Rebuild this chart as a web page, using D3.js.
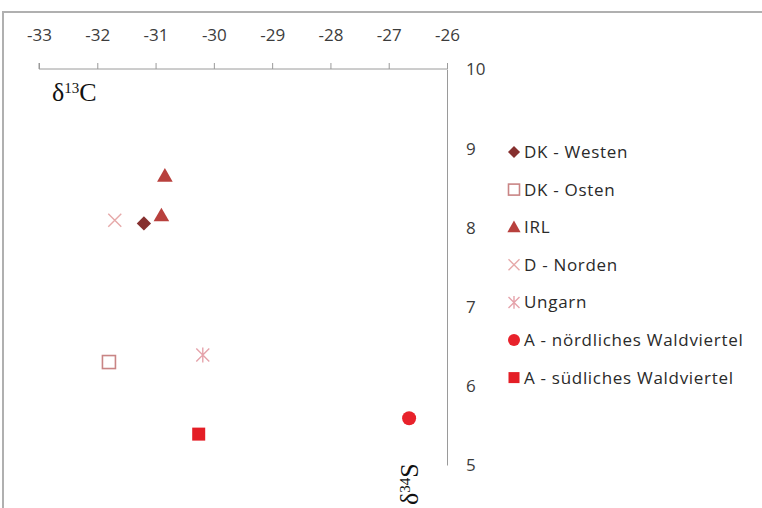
<!DOCTYPE html>
<html>
<head>
<meta charset="utf-8">
<script src="https://cdn.jsdelivr.net/npm/d3@7"></script>
<style>
  body { margin: 0; background: #fff; }
  svg { display: block; }
  .tick text { font-family: "Open Sans", sans-serif; font-size: 17px; fill: #3c3c3c; }
  .legend text { font-family: "Open Sans", sans-serif; font-size: 17px; fill: #2a2a2a; letter-spacing: 0.7px; }
</style>
</head>
<body>
<svg id="chart" width="762" height="508"></svg>
<script>
// ── data ──
const seriesNames = ['DK - Westen', 'DK - Osten', 'IRL', 'D - Norden', 'Ungarn',
  'A - nördliches Waldviertel', 'A - südliches Waldviertel'];
const seriesColors = ['#86302f', '#c98585', '#b8403d', '#e6a9a9', '#e5a3ab', '#e8222b', '#e41e26'];
const seriesShapes = ['diamond', 'openSquare', 'triangle', 'cross', 'star', 'circle', 'square'];
const seriesPoints = [
  [[-31.2, 8.05]],
  [[-31.8, 6.30]],
  [[-30.84, 8.65], [-30.9, 8.15]],
  [[-31.7, 8.09]],
  [[-30.19, 6.39]],
  [[-26.65, 5.59]],
  [[-30.26, 5.39]]
];
const xTicks = [-33, -32, -31, -30, -29, -28, -27, -26];
const yTicks = [5, 6, 7, 8, 9, 10];

// ── layout ──
const svg = d3.select('#chart');
const x = d3.scaleLinear().domain([-33, -26]).range([39, 447]);
const y = d3.scaleLinear().domain([5, 10]).range([465, 69]);

// outer frame
svg.append('path')
  .attr('d', 'M3,508 V12 H762')
  .attr('fill', 'none').attr('stroke', '#b0b0b0').attr('stroke-width', 2);

// x axis (top) – plain hyphen minus like the original
const gx = svg.append('g').attr('transform', `translate(0,${y(10)})`)
  .call(d3.axisTop(x).tickValues(xTicks).tickSize(6).tickPadding(0).tickFormat(d => String(d)));
gx.select('.domain').attr('stroke', '#9a9a9a').attr('d', `M${x(-33)},-6V0H${x(-26)}`);
gx.selectAll('.tick line').attr('stroke', '#9a9a9a');
gx.selectAll('.tick text').attr('y', -34).attr('dy', '0.35em');

// y axis (right)
const gy = svg.append('g').attr('transform', `translate(${x(-26)},0)`)
  .call(d3.axisRight(y).tickValues(yTicks).tickSize(0).tickPadding(19).tickFormat(d => String(d)));
gy.select('.domain').attr('stroke', '#9a9a9a');
gy.selectAll('.tick text').attr('text-anchor', 'start').attr('dy', '0.35em');

// axis titles
const t1 = svg.append('text').attr('x', 52).attr('y', 101)
  .attr('font-family', '"Liberation Serif", serif').attr('font-size', 26).attr('fill', '#111');
t1.append('tspan').text('δ');
t1.append('tspan').attr('font-size', 15).attr('dy', -8).text('13');
t1.append('tspan').attr('dy', 8).text('C');

const t2 = svg.append('text').attr('transform', 'translate(418,505) rotate(-90)')
  .attr('font-family', '"Liberation Serif", serif').attr('font-size', 26).attr('fill', '#111');
t2.append('tspan').text('δ');
t2.append('tspan').attr('font-size', 15).attr('dy', -8).text('34');
t2.append('tspan').attr('dy', 8).text('S');

// markers
function drawMarker(g, shape, color, cx, cy, s) {
  if (shape === 'diamond') {
    const r = s * 0.55;
    g.append('path').attr('d', `M${cx},${cy - r}L${cx + r},${cy}L${cx},${cy + r}L${cx - r},${cy}Z`)
      .attr('fill', color);
  } else if (shape === 'openSquare') {
    g.append('rect').attr('x', cx - s / 2).attr('y', cy - s / 2).attr('width', s).attr('height', s)
      .attr('fill', 'none').attr('stroke', color).attr('stroke-width', 1.6);
  } else if (shape === 'triangle') {
    g.append('path').attr('d', `M${cx},${cy - s * 0.6}L${cx + s * 0.6},${cy + s * 0.45}L${cx - s * 0.6},${cy + s * 0.45}Z`)
      .attr('fill', color);
  } else if (shape === 'cross') {
    const r = s / 2;
    g.append('path').attr('d', `M${cx - r},${cy - r}L${cx + r},${cy + r}M${cx - r},${cy + r}L${cx + r},${cy - r}`)
      .attr('stroke', color).attr('stroke-width', 1.4);
  } else if (shape === 'star') {
    const r = s / 2;
    g.append('path').attr('d', `M${cx - r},${cy - r}L${cx + r},${cy + r}M${cx - r},${cy + r}L${cx + r},${cy - r}M${cx},${cy - r * 1.15}V${cy + r * 1.15}`)
      .attr('stroke', color).attr('stroke-width', 1.4);
  } else if (shape === 'circle') {
    g.append('circle').attr('cx', cx).attr('cy', cy).attr('r', s / 2 + 0.5).attr('fill', color);
  } else if (shape === 'square') {
    g.append('rect').attr('x', cx - s / 2).attr('y', cy - s / 2).attr('width', s).attr('height', s)
      .attr('fill', color);
  }
}

const gp = svg.append('g');
seriesPoints.forEach((pts, i) => {
  pts.forEach(p => drawMarker(gp, seriesShapes[i], seriesColors[i], x(p[0]), y(p[1]), 13));
});

// legend
const lg = svg.append('g').attr('class', 'legend');
seriesNames.forEach((name, i) => {
  const ly = 152 + i * 37.6;
  drawMarker(lg, seriesShapes[i], seriesColors[i], 514, ly, 11);
  lg.append('text').attr('x', 524).attr('y', ly).attr('dy', '0.35em').text(name);
});
</script>
</body>
</html>
